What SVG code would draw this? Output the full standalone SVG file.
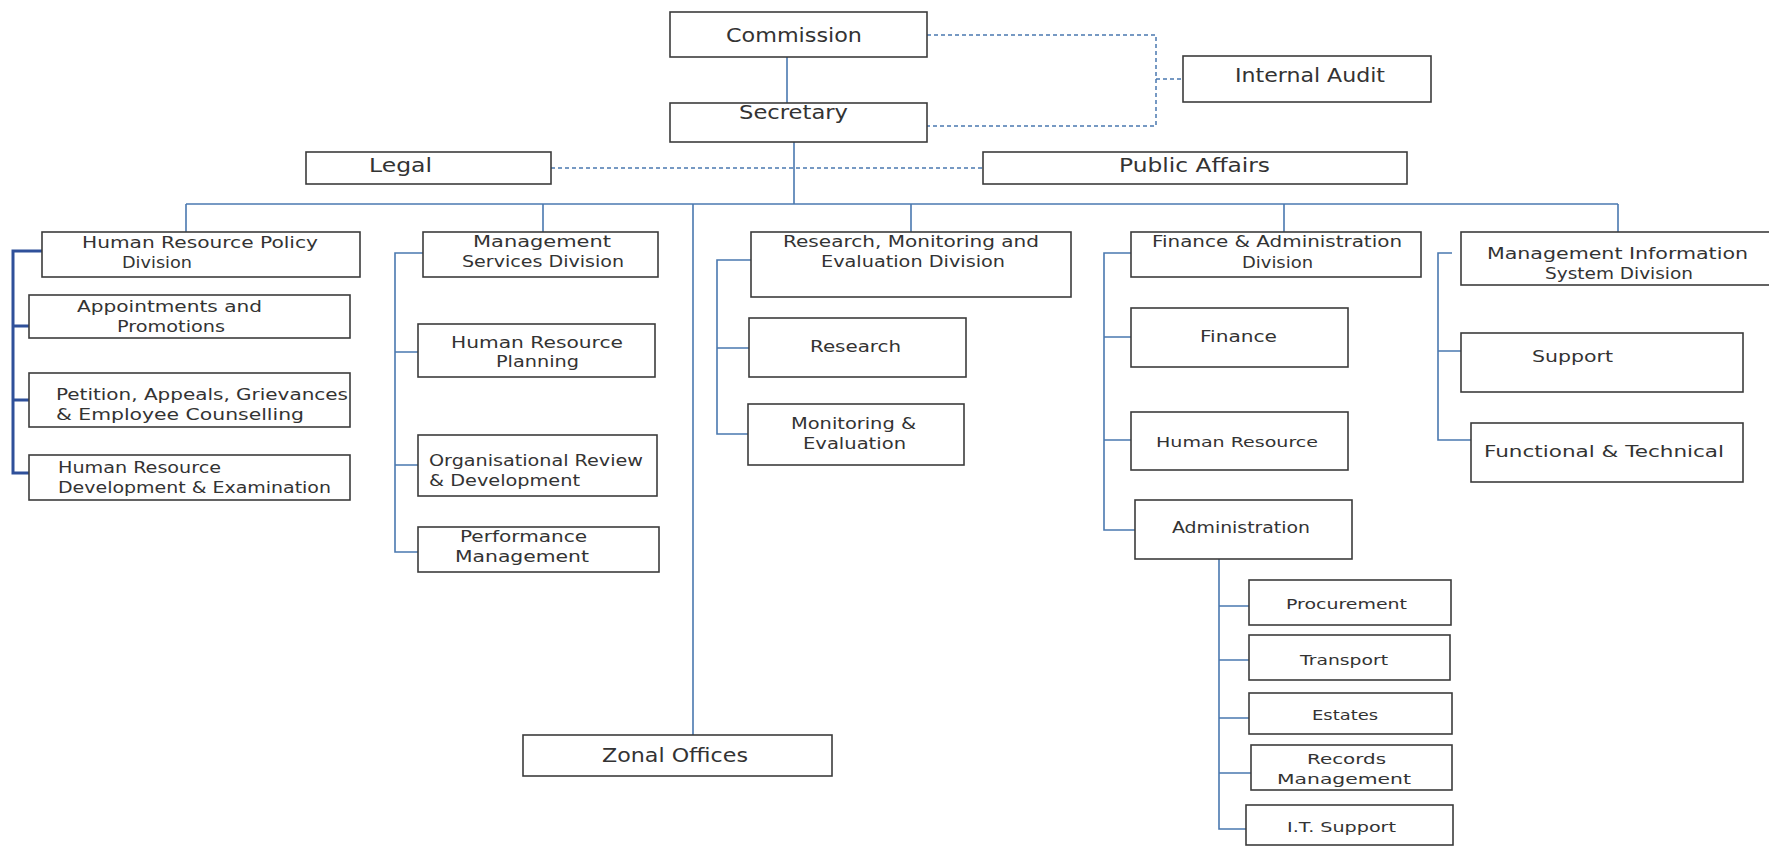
<svg xmlns="http://www.w3.org/2000/svg" width="1769" height="846" viewBox="0 0 1769 846">
<style>
.box{fill:#ffffff;stroke:#3c3c3c;stroke-width:1.6}
.t{font-family:"DejaVu Sans","Liberation Sans",sans-serif;fill:#333333;font-size:16px}
.tl{font-family:"DejaVu Sans","Liberation Sans",sans-serif;fill:#333333;font-size:19px}
.ts{font-family:"DejaVu Sans","Liberation Sans",sans-serif;fill:#333333;font-size:14.5px}
.c{fill:none;stroke:#4a78b0;stroke-width:1.6}
.ct{fill:none;stroke:#2f509a;stroke-width:3}
.d{fill:none;stroke:#4a78b0;stroke-width:1.5;stroke-dasharray:4 3}
</style>
<rect width="1769" height="846" fill="#ffffff"/>
<g id="connectors">
<path class="c" d="M787 57V103"/>
<path class="c" d="M794 142V204"/>
<path class="c" d="M186 204H1618"/>
<path class="c" d="M186 204V232M543 204V232M693 204V735M911 204V232M1284 204V232M1618 204V232"/>
<path class="d" d="M927 35H1156V126H927M1156 79H1183"/>
<path class="d" d="M551 168H983"/>
<path class="ct" d="M42 251H13V473H29M13 326H29M13 400H29"/>
<path class="c" d="M433 253H395V552H418M395 352H418M395 465H418"/>
<path class="c" d="M751 260H717V434H748M717 348H749"/>
<path class="c" d="M1131 253H1104V530H1135M1104 337H1131M1104 440H1131"/>
<path class="c" d="M1452 253H1438V440H1471M1438 351H1461"/>
<path class="c" d="M1219 559V829H1246M1219 606H1249M1219 660H1249M1219 718H1249M1219 773H1251"/>
</g>
<g id="commission"><rect class="box" x="670" y="12" width="257" height="45"/><text class="tl" x="726" y="42" textLength="136" lengthAdjust="spacingAndGlyphs">Commission</text></g>
<g id="secretary"><rect class="box" x="670" y="103" width="257" height="39"/><text class="tl" x="739" y="119" textLength="109" lengthAdjust="spacingAndGlyphs">Secretary</text></g>
<g id="internal-audit"><rect class="box" x="1183" y="56" width="248" height="46"/><text class="tl" x="1235" y="82" textLength="150" lengthAdjust="spacingAndGlyphs">Internal Audit</text></g>
<g id="legal"><rect class="box" x="306" y="152" width="245" height="32"/><text class="tl" x="369" y="172" textLength="63" lengthAdjust="spacingAndGlyphs">Legal</text></g>
<g id="public-affairs"><rect class="box" x="983" y="152" width="424" height="32"/><text class="tl" x="1119" y="172" textLength="151" lengthAdjust="spacingAndGlyphs">Public  Affairs</text></g>
<g id="hr-policy"><rect class="box" x="42" y="232" width="318" height="45"/><text class="t" x="82" y="248" textLength="236" lengthAdjust="spacingAndGlyphs">Human Resource Policy</text><text class="t" x="122" y="268" textLength="70" lengthAdjust="spacingAndGlyphs">Division</text></g>
<g id="mgmt-services"><rect class="box" x="423" y="232" width="235" height="45"/><text class="t" x="473" y="247" textLength="138" lengthAdjust="spacingAndGlyphs">Management</text><text class="t" x="462" y="267" textLength="162" lengthAdjust="spacingAndGlyphs">Services  Division</text></g>
<g id="rme"><rect class="box" x="751" y="232" width="320" height="65"/><text class="t" x="783" y="247" textLength="256" lengthAdjust="spacingAndGlyphs">Research, Monitoring and</text><text class="t" x="821" y="267" textLength="184" lengthAdjust="spacingAndGlyphs">Evaluation Division</text></g>
<g id="fad"><rect class="box" x="1131" y="232" width="290" height="45"/><text class="t" x="1152" y="247" textLength="250" lengthAdjust="spacingAndGlyphs">Finance &amp; Administration</text><text class="t" x="1242" y="268" textLength="71" lengthAdjust="spacingAndGlyphs">Division</text></g>
<g id="mis"><rect class="box" x="1461" y="232" width="312" height="53"/><text class="t" x="1487" y="259" textLength="261" lengthAdjust="spacingAndGlyphs">Management Information</text><text class="t" x="1545" y="279" textLength="148" lengthAdjust="spacingAndGlyphs">System Division</text></g>
<g id="appointments"><rect class="box" x="29" y="295" width="321" height="43"/><text class="t" x="77" y="312" textLength="185" lengthAdjust="spacingAndGlyphs">Appointments and</text><text class="t" x="117" y="332" textLength="108" lengthAdjust="spacingAndGlyphs">Promotions</text></g>
<g id="petition"><rect class="box" x="29" y="373" width="321" height="54"/><text class="t" x="56" y="400" textLength="292" lengthAdjust="spacingAndGlyphs">Petition, Appeals, Grievances</text><text class="t" x="56" y="420" textLength="248" lengthAdjust="spacingAndGlyphs">&amp; Employee  Counselling</text></g>
<g id="hr-dev"><rect class="box" x="29" y="455" width="321" height="45"/><text class="t" x="58" y="473" textLength="163" lengthAdjust="spacingAndGlyphs">Human Resource</text><text class="t" x="58" y="493" textLength="273" lengthAdjust="spacingAndGlyphs">Development &amp; Examination</text></g>
<g id="hr-planning"><rect class="box" x="418" y="324" width="237" height="53"/><text class="t" x="451" y="348" textLength="172" lengthAdjust="spacingAndGlyphs">Human Resource</text><text class="t" x="496" y="367" textLength="83" lengthAdjust="spacingAndGlyphs">Planning</text></g>
<g id="org-review"><rect class="box" x="418" y="435" width="239" height="61"/><text class="t" x="429" y="466" textLength="214" lengthAdjust="spacingAndGlyphs">Organisational Review</text><text class="t" x="429" y="486" textLength="151" lengthAdjust="spacingAndGlyphs">&amp; Development</text></g>
<g id="performance"><rect class="box" x="418" y="527" width="241" height="45"/><text class="t" x="460" y="542" textLength="127" lengthAdjust="spacingAndGlyphs">Performance</text><text class="t" x="455" y="562" textLength="134" lengthAdjust="spacingAndGlyphs">Management</text></g>
<g id="research"><rect class="box" x="749" y="318" width="217" height="59"/><text class="t" x="810" y="352" textLength="91" lengthAdjust="spacingAndGlyphs">Research</text></g>
<g id="monitoring"><rect class="box" x="748" y="404" width="216" height="61"/><text class="t" x="791" y="429" textLength="125" lengthAdjust="spacingAndGlyphs">Monitoring &amp;</text><text class="t" x="803" y="449" textLength="103" lengthAdjust="spacingAndGlyphs">Evaluation</text></g>
<g id="finance"><rect class="box" x="1131" y="308" width="217" height="59"/><text class="t" x="1200" y="342" textLength="77" lengthAdjust="spacingAndGlyphs">Finance</text></g>
<g id="human-resource"><rect class="box" x="1131" y="412" width="217" height="58"/><text class="ts" x="1156" y="447" textLength="162" lengthAdjust="spacingAndGlyphs">Human Resource</text></g>
<g id="administration"><rect class="box" x="1135" y="500" width="217" height="59"/><text class="t" x="1172" y="533" textLength="138" lengthAdjust="spacingAndGlyphs">Administration</text></g>
<g id="support"><rect class="box" x="1461" y="333" width="282" height="59"/><text class="t" x="1532" y="362" textLength="81" lengthAdjust="spacingAndGlyphs">Support</text></g>
<g id="functional"><rect class="box" x="1471" y="423" width="272" height="59"/><text class="t" x="1484" y="457" textLength="240" lengthAdjust="spacingAndGlyphs">Functional &amp; Technical</text></g>
<g id="procurement"><rect class="box" x="1249" y="580" width="202" height="45"/><text class="ts" x="1286" y="609" textLength="121" lengthAdjust="spacingAndGlyphs">Procurement</text></g>
<g id="transport"><rect class="box" x="1249" y="635" width="201" height="45"/><text class="ts" x="1300" y="665" textLength="88" lengthAdjust="spacingAndGlyphs">Transport</text></g>
<g id="estates"><rect class="box" x="1249" y="693" width="203" height="41"/><text class="ts" x="1312" y="720" textLength="66" lengthAdjust="spacingAndGlyphs">Estates</text></g>
<g id="records"><rect class="box" x="1251" y="745" width="201" height="45"/><text class="ts" x="1307" y="764" textLength="79" lengthAdjust="spacingAndGlyphs">Records</text><text class="ts" x="1277" y="784" textLength="134" lengthAdjust="spacingAndGlyphs">Management</text></g>
<g id="it-support"><rect class="box" x="1246" y="805" width="207" height="40"/><text class="ts" x="1287" y="832" textLength="109" lengthAdjust="spacingAndGlyphs">I.T. Support</text></g>
<g id="zonal"><rect class="box" x="523" y="735" width="309" height="41"/><text class="tl" x="602" y="762" textLength="146" lengthAdjust="spacingAndGlyphs">Zonal Offices</text></g>
</svg>
